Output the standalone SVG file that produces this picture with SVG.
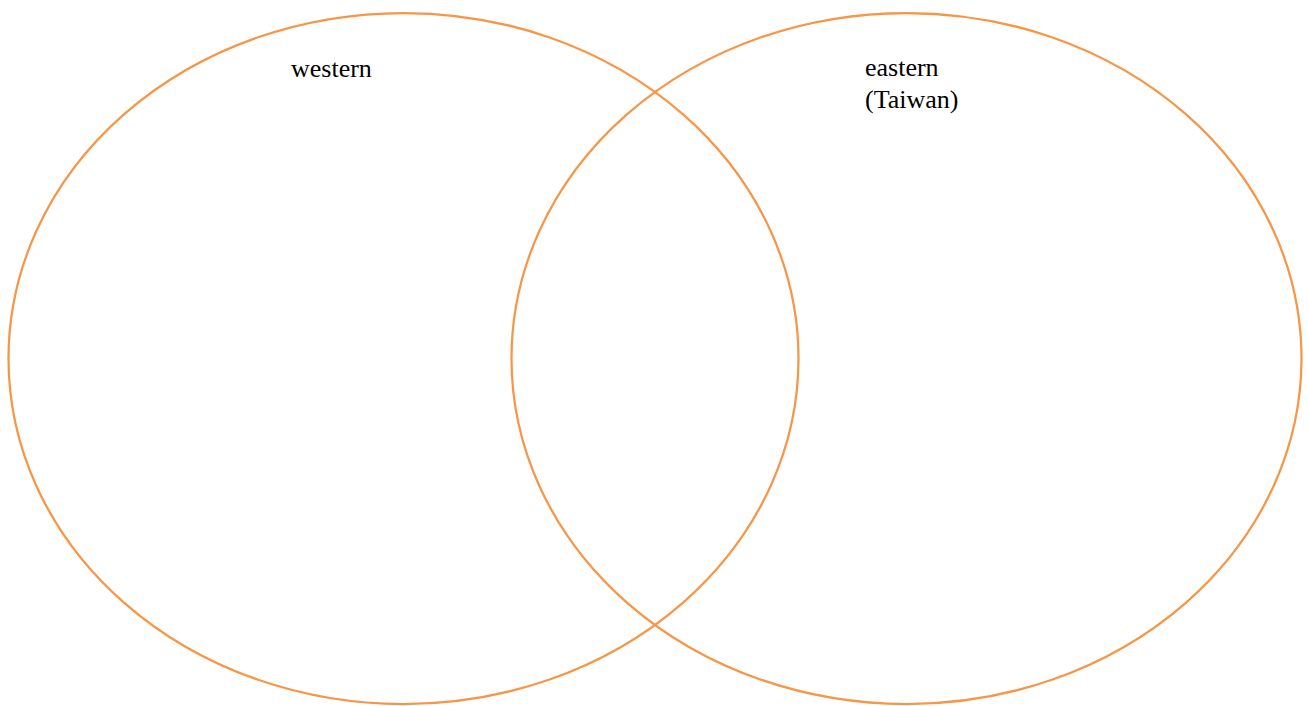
<svg xmlns="http://www.w3.org/2000/svg" width="1308" height="706" viewBox="0 0 1308 706">
<style>
.circle{fill:none;stroke:#F79646;stroke-width:2.25}
.lbl{font-family:"Liberation Serif","Times New Roman",serif;font-size:26px;fill:#000}
</style>
<rect width="1308" height="706" fill="#fff"/>
<g id="western">
<ellipse class="circle" cx="403.5" cy="358.5" rx="395" ry="345.5"/>
<text class="lbl" x="291" y="77">western</text>
</g>
<g id="eastern">
<ellipse class="circle" cx="906.5" cy="358.5" rx="395" ry="345.5"/>
<text class="lbl" x="865" y="76">eastern</text>
<text class="lbl" x="865" y="108">(Taiwan)</text>
</g>
<g id="connectors"/>
</svg>
